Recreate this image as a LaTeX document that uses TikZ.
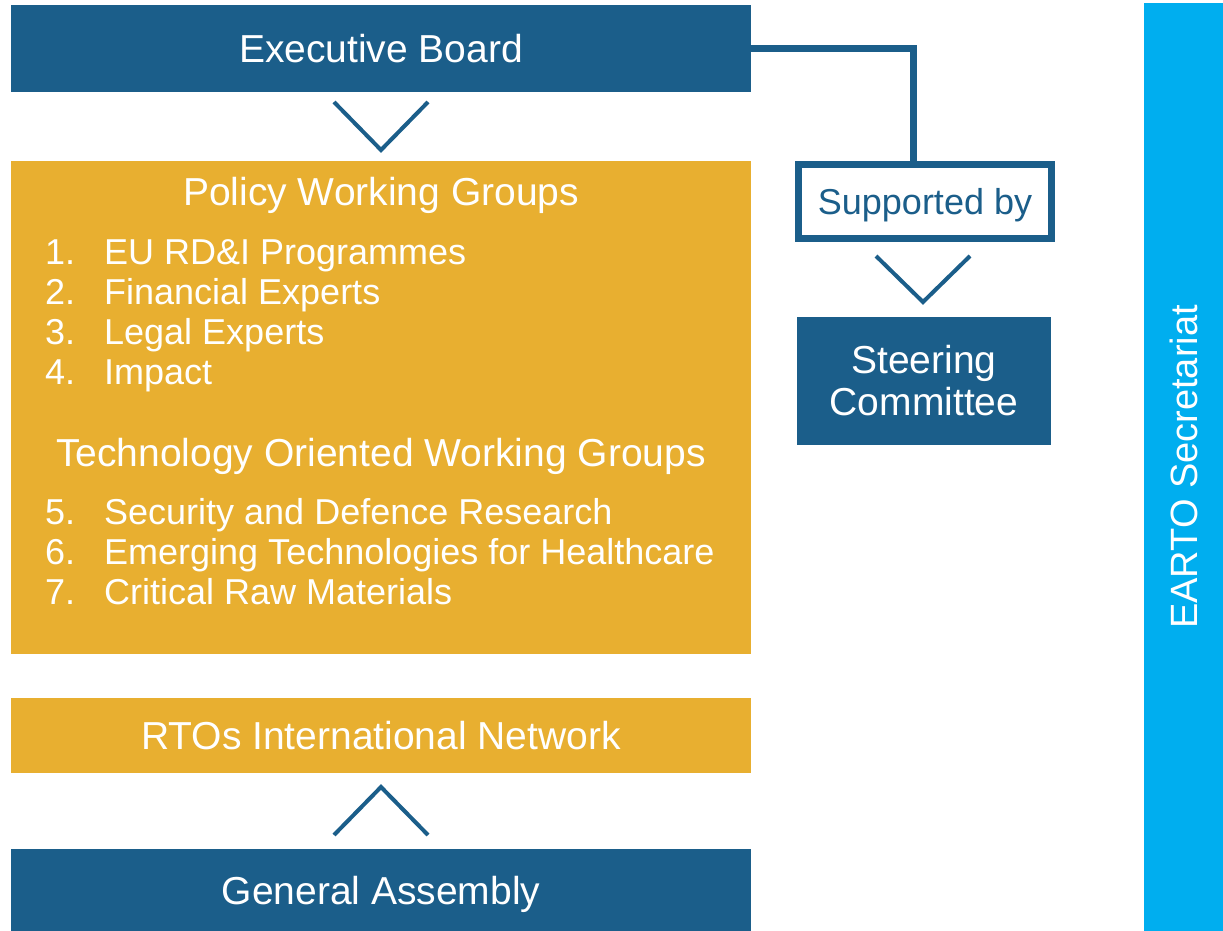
\documentclass[tikz,border=0pt]{standalone}
\usepackage{fontspec}
\setmainfont{Liberation Sans}
\definecolor{eartoblue}{HTML}{1B5E8A}
\definecolor{eartogold}{HTML}{E8AF30}
\definecolor{eartocyan}{HTML}{00AEEF}

\begin{document}
\begin{tikzpicture}[
    x=1pt,y=-1pt,
    box/.style={inner sep=0pt,outer sep=0pt,text=white,font=\fontsize{39}{42}\selectfont},
    oneline/.style={text height=28pt,text depth=0pt},
    bluebox/.style={box,fill=eartoblue,minimum width=740},
    goldbox/.style={box,fill=eartogold,minimum width=740},
    item/.style={anchor=base west,inner sep=0pt,text=white,font=\fontsize{36}{40}\selectfont},
    head/.style={item,anchor=base,font=\fontsize{39}{42}\selectfont},
    chevron/.style={line width=4pt,eartoblue},
    link/.style={line width=7pt,eartoblue}
    ]
    \useasboundingbox (0,0) rectangle (1223,931);
    % left column
    \node[bluebox,oneline,minimum height=87] (exec) at (381,48.5) {Executive Board};
    \node[goldbox,minimum height=493] (wg) at (381,407.5) {};
    \node[goldbox,oneline,minimum height=75] (rto) at (381,735.5) {RTOs International Network};
    \node[bluebox,oneline,minimum height=82] (ga) at (381,890) {General Assembly};
    \draw[chevron] (334,102) -- (381,150) -- (428,102);
    \draw[chevron] (334,835) -- (381,787) -- (428,835);
    % working groups
    \node[head] (pwg) at (381,205) {Policy Working Groups};
    \foreach \n/\txt in {1/{EU RD\&I Programmes},2/{Financial Experts},3/{Legal Experts},4/{Impact}}
      \node[item] (pwg\n) at (45,224+40*\n) {\makebox[59pt][l]{\n.}\txt};
    \node[head] (twg) at (381,466) {Technology Oriented Working Groups};
    \foreach \n/\txt in {5/{Security and Defence Research},6/{Emerging Technologies for Healthcare},7/{Critical Raw Materials}}
      \node[item] (twg\n) at (45,324+40*\n) {\makebox[59pt][l]{\n.}\txt};
    % middle column
    \node[draw=eartoblue,line width=7pt,fill=white,inner sep=0pt,outer sep=0pt,
          minimum width=253,minimum height=74,text=eartoblue,
          font=\fontsize{36}{40}\selectfont,text height=25.8pt,text depth=0pt] (sup) at (925,201.5) {Supported by};
    \draw[link] (exec.east) -| ([xshift=-12pt]sup.north);
    \draw[chevron] (876,256) -- (923,302) -- (970,256);
    \node[box,fill=eartoblue,minimum width=254,minimum height=128,align=center] (steer) at (924,381) {Steering\\Committee};
    % secretariat
    \node[box,oneline,fill=eartocyan,rotate=90,minimum width=928,minimum height=79,
          font=\fontsize{38}{42}\selectfont,text height=27pt] (sec) at (1183.5,467) {EARTO Secretariat};
  \end{tikzpicture}
\end{document}
